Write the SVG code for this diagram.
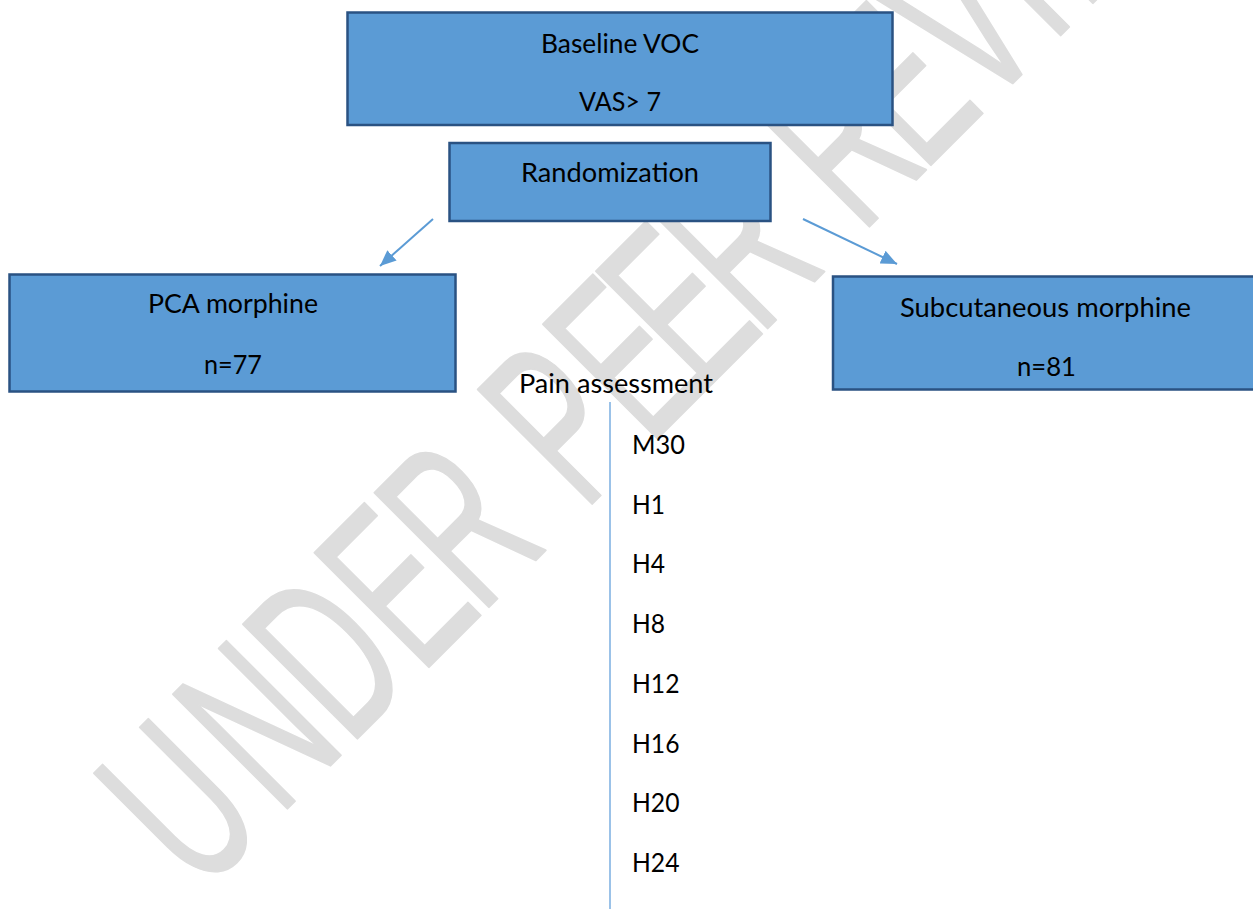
<svg xmlns="http://www.w3.org/2000/svg" width="1253" height="909" viewBox="0 0 1253 909">
<style>
.box{fill:#5b9bd5;stroke:#2a5282;stroke-width:2.5}
.t{font-family:Lato,"Open Sans","Liberation Sans",sans-serif;font-size:26.5px;fill:#000}
.conn{stroke:#5b9bd5;stroke-width:2;fill:none}
.wm{font-family:"Liberation Sans",Arial,sans-serif;font-size:235px;fill:#dddddd;stroke:#dddddd;stroke-width:2;stroke-linejoin:round}
</style>
<defs>
<marker id="ah" markerUnits="userSpaceOnUse" viewBox="0 0 16 14" refX="16" refY="7" markerWidth="16" markerHeight="14" orient="auto">
<path d="M0,0 L16,7 L0,14 z" fill="#5b9bd5"/>
</marker>
</defs>
<rect width="1253" height="909" fill="#ffffff"/>
<g id="watermark" transform="rotate(-45)">
<text class="wm" transform="scale(0.58,1)" y="775" x="-846.6 -655.2 -484.5 -310.3 -163.8 0 87.9 246.6 375.9 515.5 600 763.8 913.8 1065.5 1227.6 1308.6 1450">UNDER PEER REVIEW</text>
</g>
<g id="connectors">
<line class="conn" x1="433" y1="219" x2="380" y2="266" marker-end="url(#ah)"/>
<line class="conn" x1="803" y1="219" x2="897" y2="264" marker-end="url(#ah)"/>
<line x1="610" y1="402" x2="610" y2="909" stroke="#7aaee0" stroke-width="1.5"/>
</g>
<g id="baseline">
<rect class="box" x="347.5" y="12.5" width="545" height="112.5"/>
<text class="t" x="541" y="53" textLength="158" lengthAdjust="spacingAndGlyphs">Baseline VOC</text>
<text class="t" x="579" y="111" textLength="82" lengthAdjust="spacingAndGlyphs">VAS&gt; 7</text>
</g>
<g id="randomization">
<rect class="box" x="449.5" y="143" width="321" height="78"/>
<text class="t" x="521" y="182" textLength="178" lengthAdjust="spacingAndGlyphs">Randomization</text>
</g>
<g id="pca">
<rect class="box" x="9.5" y="274.5" width="446" height="117"/>
<text class="t" x="148" y="313" textLength="170" lengthAdjust="spacingAndGlyphs">PCA morphine</text>
<text class="t" x="204" y="374" textLength="58" lengthAdjust="spacingAndGlyphs">n=77</text>
</g>
<g id="subcutaneous">
<rect class="box" x="833" y="276.5" width="430" height="113"/>
<text class="t" x="900" y="317" textLength="291" lengthAdjust="spacingAndGlyphs">Subcutaneous morphine</text>
<text class="t" x="1017" y="376" textLength="59" lengthAdjust="spacingAndGlyphs">n=81</text>
</g>
<g id="pain-assessment">
<text class="t" x="519" y="393" textLength="194" lengthAdjust="spacingAndGlyphs">Pain assessment</text>
<text class="t" x="632" y="454" textLength="53" lengthAdjust="spacingAndGlyphs">M30</text>
<text class="t" x="632" y="513.5" textLength="33" lengthAdjust="spacingAndGlyphs">H1</text>
<text class="t" x="632" y="573.3" textLength="33" lengthAdjust="spacingAndGlyphs">H4</text>
<text class="t" x="632" y="633" textLength="33" lengthAdjust="spacingAndGlyphs">H8</text>
<text class="t" x="632" y="692.7" textLength="47.5" lengthAdjust="spacingAndGlyphs">H12</text>
<text class="t" x="632" y="752.5" textLength="47.5" lengthAdjust="spacingAndGlyphs">H16</text>
<text class="t" x="632" y="812" textLength="47.5" lengthAdjust="spacingAndGlyphs">H20</text>
<text class="t" x="632" y="872" textLength="47.5" lengthAdjust="spacingAndGlyphs">H24</text>
</g>
</svg>
